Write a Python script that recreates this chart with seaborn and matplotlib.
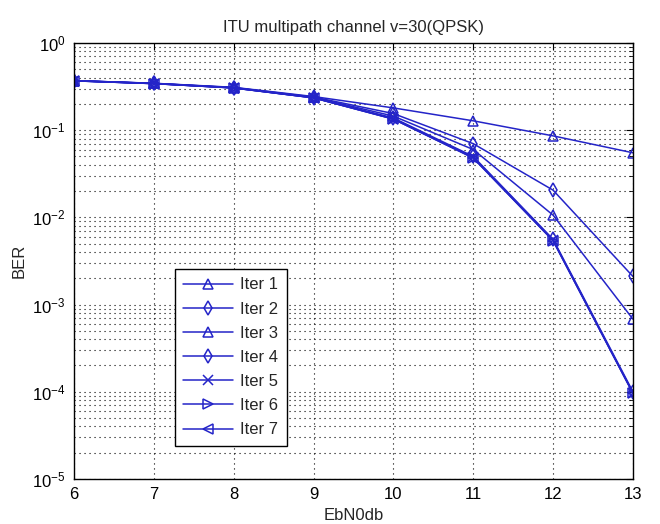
import numpy as np
import pandas as pd
import seaborn as sns
import matplotlib
matplotlib.use('Agg')
import matplotlib.pyplot as plt
from matplotlib.ticker import LogLocator, NullFormatter

# du lieu doc tu hinh
ebn0 = [6, 7, 8, 9, 10, 11, 12, 13]
iter1 = [0.37, 0.345, 0.31, 0.243, 0.18, 0.128, 0.086, 0.055]
iter2 = [0.37, 0.344, 0.308, 0.240, 0.155, 0.070, 0.0205, 0.0021]
iter3 = [0.37, 0.344, 0.307, 0.238, 0.145, 0.060, 0.0106, 0.00068]
iter4 = [0.369, 0.343, 0.306, 0.236, 0.138, 0.050, 0.0056, 0.000100]
iter5 = [0.368, 0.342, 0.305, 0.235, 0.135, 0.049, 0.0055, 0.000097]
iter6 = [0.368, 0.342, 0.305, 0.235, 0.134, 0.048, 0.0054, 0.000096]
iter7 = [0.368, 0.342, 0.305, 0.235, 0.134, 0.048, 0.0054, 0.000096]

ten_series = ['Iter 1', 'Iter 2', 'Iter 3', 'Iter 4', 'Iter 5', 'Iter 6', 'Iter 7']
gia_tri = [iter1, iter2, iter3, iter4, iter5, iter6, iter7]
ky_hieu = ['^', 'd', '^', 'd', 'x', '>', '<']

sns.set_style('white')
plt.rcParams['font.family'] = ['Liberation Sans', 'DejaVu Sans']
plt.rcParams['mathtext.fontset'] = 'custom'
plt.rcParams['mathtext.rm'] = 'Liberation Sans'

mau = '#2424c8'
kieu_luoi = (0, (1, 3.5))

fig = plt.figure(figsize=(6.6, 5.24), dpi=100)
ax = fig.add_axes([0.112, 0.086, 0.847, 0.832])

for ten, y, mk in zip(ten_series, gia_tri, ky_hieu):
    df = pd.DataFrame({'EbN0db': ebn0, 'BER': y})
    sns.lineplot(data=df, x='EbN0db', y='BER', ax=ax, color=mau, linewidth=1.1,
                 marker=mk, markersize=7, markerfacecolor='none',
                 markeredgecolor=mau, markeredgewidth=1.1, label=ten)

ax.set_yscale('log')
ax.set_xlim(6, 13)
ax.set_ylim(1e-5, 1)
ax.set_xticks(ebn0)
ax.yaxis.set_major_locator(LogLocator(base=10, numticks=10))
ax.yaxis.set_minor_locator(LogLocator(base=10, subs=np.arange(2, 10), numticks=20))
ax.yaxis.set_minor_formatter(NullFormatter())

ax.grid(True, which='major', linestyle=kieu_luoi, color='black', linewidth=0.8)
ax.grid(True, which='minor', axis='y', linestyle=kieu_luoi, color='black', linewidth=0.8)
ax.tick_params(which='both', direction='in', top=True, right=True, labelsize=12, colors='black')
ax.tick_params(which='major', length=5, pad=6)
ax.tick_params(which='minor', length=3)
for s in ax.spines.values():
    s.set_color('black')
    s.set_linewidth(1.0)

ax.set_title('ITU multipath channel v=30(QPSK)', fontsize=12, pad=8)
ax.set_xlabel('EbN0db', fontsize=12)
ax.set_ylabel('BER', fontsize=12)

leg = ax.legend(loc='lower left', bbox_to_anchor=(0.181, 0.076), fontsize=12,
                frameon=True, fancybox=False, edgecolor='black', framealpha=1,
                handlelength=3.0, handletextpad=0.4, labelspacing=0.55,
                borderpad=0.5, borderaxespad=0)
leg.get_frame().set_linewidth(1.0)

fig.savefig('out.png', dpi=100)
